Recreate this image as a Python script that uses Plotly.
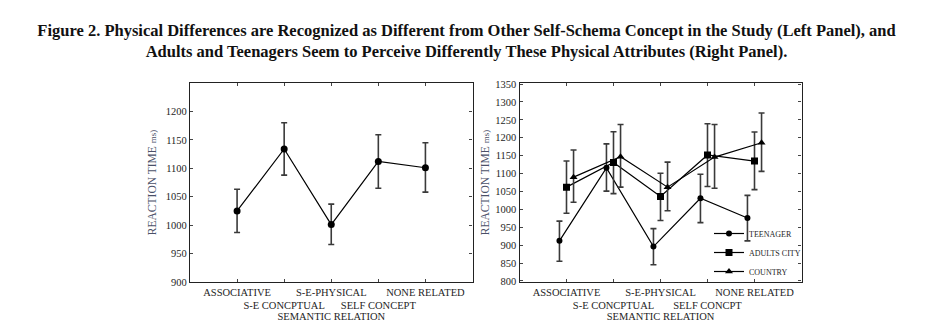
import plotly.graph_objects as go

# ---- data ----
categories_left = ["ASSOCIATIVE", "S-E CONCPTUAL", "S-E-PHYSICAL", "SELF CONCEPT", "NONE RELATED"]
categories_right = ["ASSOCIATIVE", "S-E CONCPTUAL", "S-E-PHYSICAL", "SELF CONCPT", "NONE RELATED"]

left_mean = [1025, 1134, 1001, 1112, 1101]
left_err_plus = [38, 46, 36, 47, 44]
left_err_minus = [38, 46, 35, 47, 43]

teen_mean = [912, 1116, 896, 1031, 976]
teen_err_plus = [55, 67, 50, 67, 63]
teen_err_minus = [57, 65, 51, 68, 64]

adult_mean = [1062, 1131, 1036, 1152, 1135]
adult_err_plus = [73, 86, 65, 87, 81]
adult_err_minus = [73, 87, 67, 88, 80]

country_mean = [1090, 1147, 1062, 1146, 1186]
country_err_plus = [76, 90, 70, 91, 83]
country_err_minus = [70, 85, 66, 87, 80]

series_names = ["TEENAGER", "ADULTS CITY", "COUNTRY"]
series_offsets = [-0.15, 0.0, 0.15]

y_ticks_left = [900, 950, 1000, 1050, 1100, 1150, 1200]
y_ticks_right = [800, 850, 900, 950, 1000, 1050, 1100, 1150, 1200, 1250, 1300, 1350]

title_line1 = "Figure 2. Physical Differences are Recognized as Different from Other Self-Schema Concept in the Study (Left Panel), and"
title_line2 = "Adults and Teenagers Seem to Perceive Differently These Physical Attributes (Right Panel)."

# ---- figure ----
FONT = "Liberation Serif"
W, H = 933, 326
positions = [1, 2, 3, 4, 5]


def staggered(labels):
    return [lab if i % 2 == 0 else "<br>" + lab for i, lab in enumerate(labels)]


fig = go.Figure()

err_style = dict(type="data", symmetric=False, color="#3a3a3a", thickness=1.6, width=3)

fig.add_trace(go.Scatter(
    x=positions, y=left_mean, mode="lines+markers",
    line=dict(color="black", width=1.2),
    marker=dict(symbol="circle", size=7, color="black"),
    error_y=dict(array=left_err_plus, arrayminus=left_err_minus, **err_style),
    xaxis="x", yaxis="y", showlegend=False,
))

right_series = [
    (teen_mean, teen_err_plus, teen_err_minus, "circle", 6),
    (adult_mean, adult_err_plus, adult_err_minus, "square", 7),
    (country_mean, country_err_plus, country_err_minus, "triangle-up", 7),
]
for (mean, ep, em, sym, sz), name, off in zip(right_series, series_names, series_offsets):
    fig.add_trace(go.Scatter(
        x=[p + off for p in positions], y=mean, mode="lines+markers", name=name,
        line=dict(color="black", width=1.2),
        marker=dict(symbol=sym, size=sz, color="black"),
        error_y=dict(array=ep, arrayminus=em, **err_style),
        xaxis="x2", yaxis="y2",
    ))

y_top_px, y_bot_px = 83, 282
ydom = [(H - y_bot_px) / H, (H - y_top_px) / H]

axis_common = dict(
    showline=True, linecolor="#222", linewidth=1.3, mirror="allticks",
    ticks="inside", ticklen=3, tickcolor="#444", showgrid=False, zeroline=False,
    automargin=False, tickangle=0,
    tickfont=dict(family=FONT, size=10.5, color="#1e1e1e"),
)
ytitle = dict(
    text="REACTION TIME <span style='font-size:9px'>ms)</span>",
    font=dict(family=FONT, size=11.5, color="#4a5068"),
)
xtitle = dict(text="SEMANTIC RELATION", font=dict(family=FONT, size=10.5, color="#1e1e1e"), standoff=0)

fig.update_layout(
    width=W, height=H,
    margin=dict(l=0, r=0, t=0, b=0, autoexpand=False),
    paper_bgcolor="white", plot_bgcolor="white",
    xaxis=dict(domain=[190 / W, 472.5 / W], range=[0, 6], tickvals=positions,
               ticktext=staggered(categories_left), title=xtitle, anchor="y", **axis_common),
    yaxis=dict(domain=ydom, range=[900, 1250], tickvals=y_ticks_left,
               title=dict(standoff=6, **ytitle), anchor="x", **axis_common),
    xaxis2=dict(domain=[519.5 / W, 801.5 / W], range=[0, 6], tickvals=positions,
                ticktext=staggered(categories_right), title=xtitle, anchor="y2", **axis_common),
    yaxis2=dict(domain=ydom, range=[797, 1353], tickvals=y_ticks_right,
                title=dict(standoff=3, **ytitle), anchor="x2", **axis_common),
    legend=dict(
        x=806 / W, y=(H - 286) / H, xanchor="right", yanchor="bottom",
        bgcolor="rgba(0,0,0,0)", font=dict(family=FONT, size=8, color="#1e1e1e"),
        itemwidth=30, tracegroupgap=0, traceorder="normal",
    ),
    title=dict(
        text=f"<b>{title_line1}<br>{title_line2}</b>",
        x=0.5, xanchor="center", y=1 - 36 / H, yanchor="top",
        font=dict(family=FONT, size=16.5, color="#111"),
    ),
)

fig.write_html("out.html")
